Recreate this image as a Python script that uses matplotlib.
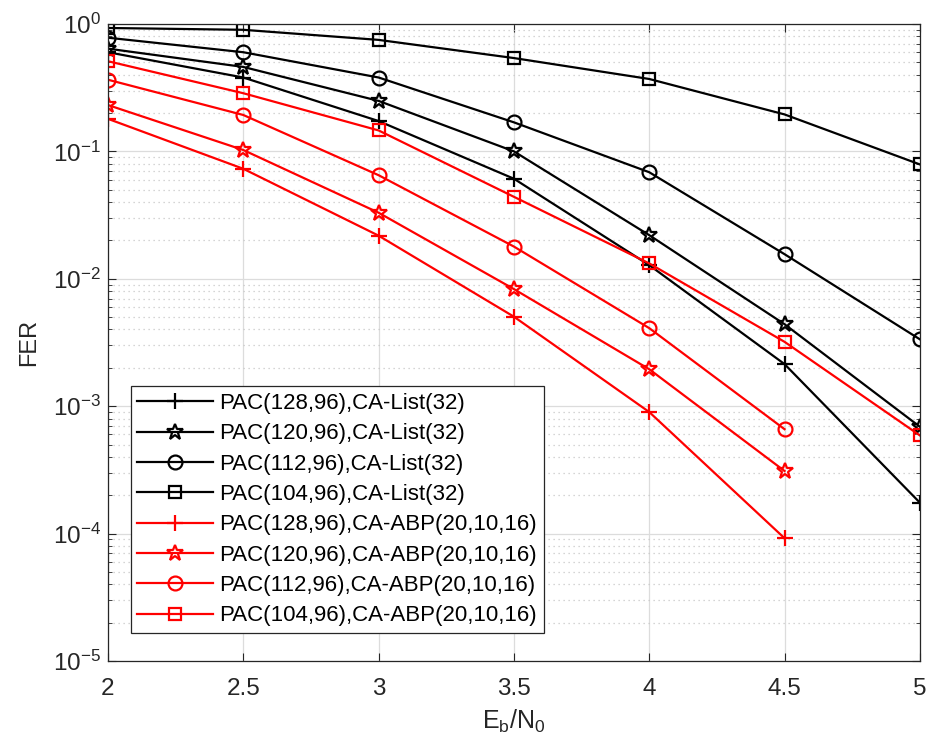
import matplotlib
matplotlib.use("Agg")
from matplotlib import pyplot as plt
from matplotlib.ticker import LogLocator, NullFormatter

plt.rcParams["font.family"] = ["Liberation Sans", "DejaVu Sans"]
plt.rcParams["mathtext.fontset"] = "custom"
plt.rcParams["mathtext.rm"] = "Liberation Sans"
plt.rcParams["mathtext.it"] = "Liberation Sans"

ebn0 = [2, 2.5, 3, 3.5, 4, 4.5, 5]
ebn0_abp = [2, 2.5, 3, 3.5, 4, 4.5]

list_128 = [0.60, 0.38, 0.173, 0.061, 0.0128, 0.00214, 0.000175]
list_120 = [0.64, 0.46, 0.249, 0.100, 0.022, 0.0044, 0.00069]
list_112 = [0.78, 0.60, 0.38, 0.169, 0.0686, 0.0156, 0.00335]
list_104 = [0.93, 0.90, 0.75, 0.54, 0.37, 0.195, 0.079]

abp_128 = [0.18, 0.073, 0.0218, 0.00504, 0.0009, 0.000092]
abp_120 = [0.231, 0.1025, 0.033, 0.0083, 0.00195, 0.00031]
abp_112 = [0.365, 0.193, 0.065, 0.0179, 0.0041, 0.00066]
abp_104 = [0.51, 0.286, 0.146, 0.044, 0.0132, 0.0032, 0.00059]

yticks = [1e-5, 1e-4, 1e-3, 1e-2, 1e-1, 1]
ytick_labels = [r"$\mathregular{10^{-5}}$", r"$\mathregular{10^{-4}}$",
                r"$\mathregular{10^{-3}}$", r"$\mathregular{10^{-2}}$",
                r"$\mathregular{10^{-1}}$", r"$\mathregular{10^{0}}$"]

fig = plt.figure(figsize=(9.31, 7.49), dpi=100)
ax = fig.add_axes([0.116, 0.1175, 0.872, 0.8505])

lw = 1.6
ms = 9
ax.plot(ebn0, list_128, color="black", marker="+", ms=ms + 2, mew=lw, lw=lw,
        label="PAC(128,96),CA-List(32)")
ax.plot(ebn0, list_120, color="black", marker="*", ms=ms + 3, mfc="none", mew=lw, lw=lw,
        label="PAC(120,96),CA-List(32)")
ax.plot(ebn0, list_112, color="black", marker="o", ms=ms + 1, mfc="none", mew=lw, lw=lw,
        label="PAC(112,96),CA-List(32)")
ax.plot(ebn0, list_104, color="black", marker="s", ms=ms - 1, mfc="none", mew=lw, lw=lw,
        label="PAC(104,96),CA-List(32)")
ax.plot(ebn0_abp, abp_128, color="red", marker="+", ms=ms + 2, mew=lw, lw=lw,
        label="PAC(128,96),CA-ABP(20,10,16)")
ax.plot(ebn0_abp, abp_120, color="red", marker="*", ms=ms + 3, mfc="none", mew=lw, lw=lw,
        label="PAC(120,96),CA-ABP(20,10,16)")
ax.plot(ebn0_abp, abp_112, color="red", marker="o", ms=ms + 1, mfc="none", mew=lw, lw=lw,
        label="PAC(112,96),CA-ABP(20,10,16)")
ax.plot(ebn0, abp_104, color="red", marker="s", ms=ms - 1, mfc="none", mew=lw, lw=lw,
        label="PAC(104,96),CA-ABP(20,10,16)")

ax.set_yscale("log")
ax.set_xlim(2, 5)
ax.set_ylim(1e-5, 1)
ax.set_xticks([2, 2.5, 3, 3.5, 4, 4.5, 5])
ax.set_xticklabels(["2", "2.5", "3", "3.5", "4", "4.5", "5"])
ax.set_yticks(yticks)
ax.set_yticklabels(ytick_labels)
ax.yaxis.set_minor_locator(LogLocator(base=10, subs=range(2, 10), numticks=20))
ax.yaxis.set_minor_formatter(NullFormatter())

ax.grid(True, which="major", color="#dcdcdc", lw=0.9, ls="-")
ax.grid(True, which="minor", axis="y", color="#c8c8c8", lw=0.9, ls=(0, (1, 3)))
ax.set_axisbelow(True)

ax.tick_params(which="both", direction="in", top=True, right=True,
               colors="#262626")
ax.tick_params(axis="x", labelsize=17.5, pad=12)
ax.tick_params(axis="y", labelsize=17.5, pad=5)
ax.tick_params(which="major", length=6)
ax.tick_params(which="minor", length=3)
for s in ax.spines.values():
    s.set_color("#262626")
    s.set_linewidth(0.9)

ax.set_xlabel(r"$\mathregular{E_b/N_0}$", fontsize=18, color="#262626", labelpad=6)
ax.set_ylabel("FER", fontsize=17, color="#262626", labelpad=9)

leg = ax.legend(loc="lower left", bbox_to_anchor=(0.028, 0.044), fontsize=16,
                fancybox=False, edgecolor="#262626", framealpha=1,
                handlelength=3.4, borderpad=0.3, labelspacing=0.42,
                handletextpad=0.3, borderaxespad=0)
leg.get_frame().set_linewidth(0.9)

fig.savefig("out.png", dpi=100)
